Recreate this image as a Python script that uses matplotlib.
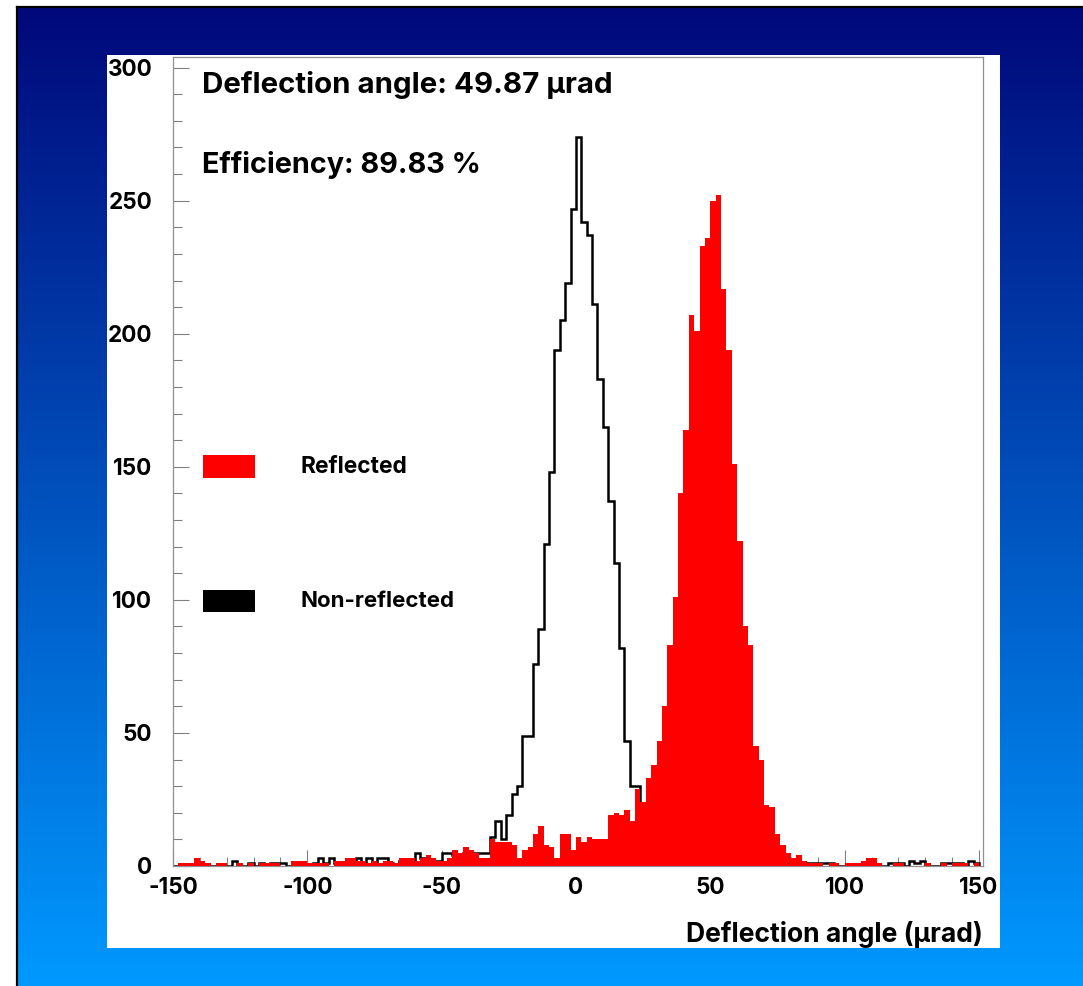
import numpy as np
import matplotlib
matplotlib.use("Agg")
import matplotlib.pyplot as plt
from matplotlib.patches import Rectangle

# ---- histogram binning ----
BIN_LO = -150
BIN_HI = 150
BIN_WIDTH = 2

# ---- data: counts per 2 urad bin, left edges -150, -148, ..., 148 ----
reflected = [
    0, 1, 1, 1, 3, 2, 1, 0, 1, 1,          # -150 .. -132
    0, 0, 1, 0, 1, 0, 1, 1, 1, 1,          # -130 .. -112
    0, 0, 2, 2, 2, 1, 1, 1, 1, 0,          # -110 .. -92
    2, 2, 3, 3, 2, 2, 1, 2, 1, 2,          # -90 .. -72
    2, 1, 3, 3, 3, 2, 3, 4, 3, 2,          # -70 .. -52
    2, 3, 6, 5, 7, 6, 5, 3, 3, 10,         # -50 .. -32
    9, 9, 9, 8, 3, 6, 7, 12, 15, 8,        # -30 .. -12
    7, 3, 12, 12, 6, 11, 9, 11, 10, 10,    # -10 .. 8
    10, 19, 20, 19, 21, 17, 29, 24, 33, 38,    # 10 .. 28
    47, 60, 83, 101, 140, 164, 207, 201, 233, 236,  # 30 .. 48
    250, 252, 217, 194, 151, 122, 90, 83, 45, 40,   # 50 .. 68
    23, 22, 12, 8, 5, 3, 4, 2, 1, 1,       # 70 .. 88
    1, 0, 1, 1, 0, 1, 1, 1, 2, 3,          # 90 .. 108
    3, 1, 0, 0, 1, 1, 0, 0, 0, 0,          # 110 .. 128
    1, 0, 0, 1, 0, 1, 1, 1, 0, 1,          # 130 .. 148
]

non_reflected = [
    0, 0, 0, 0, 0, 0, 0, 0, 0, 0,          # -150 .. -132
    0, 2, 0, 0, 1, 0, 1, 0, 1, 1,          # -130 .. -112
    1, 0, 0, 0, 0, 0, 1, 3, 1, 3,          # -110 .. -92
    1, 1, 0, 0, 3, 1, 3, 1, 3, 3,          # -90 .. -72
    1, 0, 2, 1, 2, 5, 3, 2, 2, 2,          # -70 .. -52
    5, 5, 4, 4, 5, 5, 5, 5, 5, 11,         # -50 .. -32
    17, 10, 19, 27, 30, 49, 49, 76, 89, 121,   # -30 .. -12
    148, 194, 205, 219, 247, 274, 242, 237, 211, 183,  # -10 .. 8
    165, 137, 114, 82, 47, 30, 30, 14, 8, 5,   # 10 .. 28
    3, 2, 1, 1, 0, 1, 0, 0, 1, 0,          # 30 .. 48
    0, 0, 0, 0, 0, 0, 0, 0, 0, 0,          # 50 .. 68
    0, 0, 0, 0, 1, 0, 1, 1, 1, 1,          # 70 .. 88
    1, 1, 1, 0, 0, 0, 0, 0, 0, 0,          # 90 .. 108
    0, 0, 0, 1, 1, 1, 0, 2, 1, 2,          # 110 .. 128
    0, 0, 0, 1, 1, 1, 1, 0, 2, 1,          # 130 .. 148
]

x_ticks = [-150, -100, -50, 0, 50, 100, 150]
y_ticks = [0, 50, 100, 150, 200, 250, 300]

title_lines = ["Deflection angle: 49.87 \u03bcrad", "Efficiency: 89.83 %"]
legend_labels = ["Reflected", "Non-reflected"]
x_label = "Deflection angle (\u03bcrad)"

edges = np.arange(BIN_LO, BIN_HI + BIN_WIDTH, BIN_WIDTH)

FONT = ['Inter', 'Liberation Sans', 'DejaVu Sans']
plt.rcParams['font.family'] = FONT
plt.rcParams['font.weight'] = 'bold'
plt.rcParams['axes.unicode_minus'] = False

W, H = 1083, 986
fig = plt.figure(figsize=(W / 100, H / 100), dpi=100)
fig.patch.set_facecolor('white')
renderer = fig.canvas.get_renderer()

def fx(px):
    return px / W

def fy(py):
    return 1 - py / H

def fit_width(txt, target_px):
    w = txt.get_window_extent(renderer).width
    txt.set_fontsize(txt.get_fontsize() * target_px / w)

# gradient background
bg = fig.add_axes([fx(17), 0, 1 - fx(17), fy(7)])
top = np.array([0, 8, 122]) / 255.0
bot = np.array([0, 153, 255]) / 255.0
t = np.linspace(0, 1, 256)[:, None]
grad = (top[None, :] * (1 - t) + bot[None, :] * t)[:, None, :]
bg.imshow(grad, aspect='auto', extent=[0, 1, 0, 1], origin='upper')
bg.set_xlim(0, 1)
bg.set_ylim(0, 1)
bg.set_xticks([])
bg.set_yticks([])
for s in ['left', 'top']:
    bg.spines[s].set_color('black')
    bg.spines[s].set_linewidth(1.6)
for s in ['right', 'bottom']:
    bg.spines[s].set_visible(False)

# white panel
fig.patches.append(Rectangle((fx(107), fy(948)), fx(1000) - fx(107), fy(55) - fy(948),
                             transform=fig.transFigure, facecolor='white',
                             edgecolor='none', zorder=1))

ax = fig.add_axes([fx(173), fy(866), fx(983) - fx(173), fy(57) - fy(866)])
ax.set_zorder(2)
ax.set_facecolor('white')

ax.stairs(non_reflected, edges, fill=False, color='black', linewidth=1.8, zorder=2)
ax.stairs(reflected, edges, fill=True, color='#ff0000', linewidth=0, zorder=3)

ax.set_xlim(-150, 151.5)
ax.set_ylim(0, 304)
ax.set_xticks(x_ticks)
ax.set_yticks(y_ticks)
ax.set_xticks(np.arange(-150, 151, 10), minor=True)
ax.set_yticks(np.arange(0, 301, 10), minor=True)

# tick label size fitted so "300" is ~45 px wide
probe = fig.text(0, 0, "300", fontsize=17, fontweight='bold')
fit_width(probe, 45)
tick_fs = probe.get_fontsize()
probe.remove()

ax.tick_params(which='both', direction='in', color='#808080', width=0.8,
               top=False, right=False)
ax.tick_params(which='major', length=11.5, labelsize=tick_fs)
ax.tick_params(which='minor', length=6.5)
ax.tick_params(axis='y', which='major', pad=15)
ax.tick_params(axis='x', which='major', pad=8)
for lab in ax.get_xticklabels() + ax.get_yticklabels():
    lab.set_fontweight('bold')
for s in ax.spines.values():
    s.set_color('#909090')
    s.set_linewidth(0.9)
for tl in ax.get_xticklines() + ax.get_yticklines():
    tl.set_zorder(5)

AH = 866 - 57
AW = 983 - 173

def axx(px):
    return (px - 173) / AW

def axy(py):
    return (866 - py) / AH

t1 = ax.text(axx(202), axy(85), title_lines[0], transform=ax.transAxes,
             ha='left', va='center', fontsize=20, fontweight='bold', zorder=6)
fit_width(t1, 411)
t2 = ax.text(axx(202), axy(165), title_lines[1], transform=ax.transAxes,
             ha='left', va='center', fontsize=20, fontweight='bold', zorder=6)
fit_width(t2, 279)

# legend
ax.add_patch(Rectangle((axx(203), axy(478)), axx(255) - axx(203), axy(455) - axy(478),
                       transform=ax.transAxes, facecolor='#ff0000', edgecolor='none',
                       zorder=6, clip_on=False))
l1 = ax.text(axx(300), axy(467), legend_labels[0], transform=ax.transAxes,
             ha='left', va='center', fontsize=16, fontweight='bold', zorder=6)
fit_width(l1, 107)
ax.add_patch(Rectangle((axx(203), axy(612)), axx(255) - axx(203), axy(590) - axy(612),
                       transform=ax.transAxes, facecolor='black', edgecolor='none',
                       zorder=6, clip_on=False))
l2 = ax.text(axx(300), axy(601), legend_labels[1], transform=ax.transAxes,
             ha='left', va='center', fontsize=16, fontweight='bold', zorder=6)
fit_width(l2, 154)

xl = ax.text(1.0, axy(934), x_label, transform=ax.transAxes, ha='right', va='center',
             fontsize=18, fontweight='bold', zorder=6, clip_on=False)
fit_width(xl, 297)

fig.savefig('out.png', dpi=100, facecolor='white')
